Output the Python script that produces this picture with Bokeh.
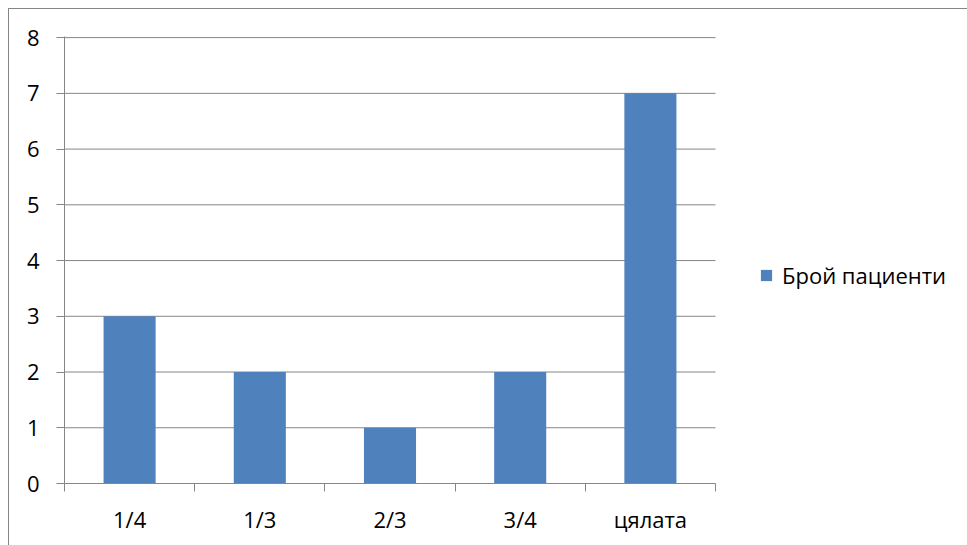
from bokeh.plotting import figure
from bokeh.models import Range1d, FixedTicker, Legend, LegendItem, ColumnDataSource
from bokeh.embed import file_html
from bokeh.resources import INLINE

categories = ["1/4", "1/3", "2/3", "3/4", "цялата"]
patients = [3, 2, 1, 2, 7]
series_name = "Брой пациенти"
y_ticks = [0, 1, 2, 3, 4, 5, 6, 7, 8]

FONT = "Open Sans"
FS = "22px"
BAR = "#4F81BD"
GRID = "#868686"

n = len(categories)
xs = [i + 0.5 for i in range(n)]
src = ColumnDataSource(dict(x=xs, top=patients))

# the figure covers the whole window; the 8px page margin is kept inside it
W, H = 967, 545
LEFT, TOP, BOTTOM = 64, 36, 62
CAT_PX = 130.2  # width of one category slot on screen
x_end = (W - LEFT) / CAT_PX  # frame extends to the right edge so the legend fits

p = figure(width=W, height=H, output_backend="svg", toolbar_location=None,
           x_range=Range1d(0, x_end), y_range=Range1d(0, 8.02))
p.min_border_left = LEFT
p.min_border_top = TOP
p.min_border_right = 0
p.min_border_bottom = BOTTOM
p.outline_line_color = None
p.border_fill_alpha = 0
p.background_fill_color = "white"
# thin chart-area border at the page margin (left and top edges)
p.styles = {"box-shadow": "inset 8px 8px 0 0 #ffffff, inset 9px 9px 0 0 #868686",
            "background-color": "#ffffff"}

# horizontal grid lines limited to the category area
grid = p.segment(x0=0, x1=n, y0=y_ticks, y1=y_ticks, line_color=GRID, line_width=1)
grid.level = "underlay"

r = p.vbar(x="x", top="top", width=0.4, source=src, fill_color=BAR, line_color=None)

# x axis: labels at category centres, ticks at category boundaries
xa = p.xaxis[0]
xa.bounds = (0, n)
xa.ticker = FixedTicker(ticks=xs, minor_ticks=list(range(n + 1)))
xa.major_label_overrides = {x: c for x, c in zip(xs, categories)}
xa.major_tick_line_color = None
xa.major_tick_out = 8
xa.major_tick_in = 0
xa.minor_tick_out = 8
xa.minor_tick_in = 0
xa.minor_tick_line_color = GRID
xa.axis_line_color = GRID
xa.major_label_text_font = FONT
xa.major_label_text_font_size = FS
xa.major_label_text_color = "black"
xa.major_label_standoff = 12

ya = p.yaxis[0]
ya.ticker = FixedTicker(ticks=y_ticks, minor_ticks=[])
ya.major_tick_out = 8
ya.major_tick_in = 0
ya.major_tick_line_color = GRID
ya.axis_line_color = GRID
ya.major_label_text_font = FONT
ya.major_label_text_font_size = FS
ya.major_label_text_color = "black"
ya.major_label_standoff = 17

p.xgrid.visible = False
p.ygrid.visible = False

legend = Legend(items=[LegendItem(label=series_name, renderers=[r])],
                location=(695, 193), glyph_width=14, glyph_height=14,
                padding=0, margin=0, label_standoff=9, spacing=0,
                border_line_color=None, background_fill_alpha=0,
                label_text_font=FONT, label_text_font_size=FS,
                label_text_color="black")
p.add_layout(legend, "center")

html = file_html(p, INLINE)
html = html.replace(
    "</head>",
    "<style>html,body{margin:0 !important;padding:0 !important;"
    "overflow:hidden !important;background:#ffffff;}</style></head>", 1)
open("out.html", "w").write(html)
